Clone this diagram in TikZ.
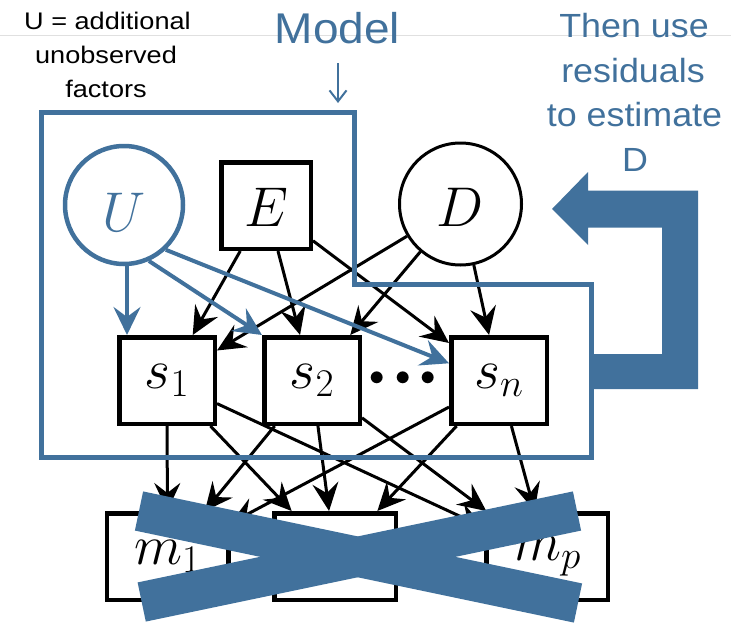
\RequirePackage{fix-cm}
\documentclass[tikz,border=0pt]{standalone}
\usepackage{fontspec}
\newfontfamily\smallsans[FakeStretch=1.13]{Liberation Sans}
\newfontfamily\bigsans[FakeStretch=1.07]{Liberation Sans}
\usetikzlibrary{arrows.meta}
\definecolor{mblue}{RGB}{65,113,156}
\newcommand\mathbig{\fontsize{56}{60}\selectfont}
\begin{document}
\begin{tikzpicture}[x=1pt,y=-1pt,
  smalltxt/.style={font=\smallsans\fontsize{24}{28}\selectfont, text=black, inner sep=0pt, anchor=base},
  bluetxt/.style={font=\bigsans\fontsize{33.5}{38}\selectfont, text=mblue, inner sep=0pt, anchor=base},
  modeltxt/.style={font=\bigsans\fontsize{43}{48}\selectfont, text=mblue, inner sep=0pt, anchor=base},
  sbox/.style={draw, line width=4.5pt, inner sep=0pt, minimum width=95.5pt, minimum height=86.5pt, font=\mathbig},
  ebox/.style={draw, line width=4.5pt, inner sep=0pt, minimum width=89.5pt, minimum height=86.5pt, font=\mathbig, text height=42pt},
  mbox/.style={draw, line width=4.5pt, inner sep=0pt, minimum width=121.5pt, minimum height=86.5pt, font=\mathbig},
  dcirc/.style={draw, circle, line width=3pt, inner sep=0pt, minimum size=122pt, font=\mathbig, text height=44pt},
  ucirc/.style={draw=mblue, circle, line width=4.5pt, inner sep=0pt, minimum size=118pt, font=\mathbig, text=mblue, text height=52pt},
  barr/.style={-{Stealth[length=28pt,width=26pt,inset=10pt]}, line width=3pt, black},
  uarr/.style={-{Stealth[length=28pt,width=27pt,inset=10pt]}, line width=4pt, mblue},
  pointer/.style={-{Straight Barb[length=11pt,width=17pt,line width=2pt]}, line width=2pt, mblue},
]
\useasboundingbox (0,0) rectangle (731,632);
\coordinate (gl) at (0,35);
\coordinate (gr) at (731,35);
\draw[black!12, line width=1pt] (gl) -- (gr);

% texts
\node[smalltxt] (u1) at (107.5,29.3) {U = additional};
\node[smalltxt] (u2) at (106,63.3) {unobserved};
\node[smalltxt] (u3) at (106,97) {factors};
\node[modeltxt] (model) at (337.5,43.3) {Model};
\node[bluetxt] (t1) at (634,37.3) {Then use};
\node[bluetxt] (t2) at (633,82.1) {residuals};
\node[bluetxt] (t3) at (634.5,126.9) {to estimate};
\node[bluetxt] (t4) at (635,171.7) {D};

% pointer under "Model"
\coordinate (ptop) at (338,63);
\coordinate (pbot) at (338,103);
\draw[pointer] (ptop) -- (pbot);

% nodes
\node[ucirc] (U) at (124,205) {$U$};
\node[ebox] (E) at (266,205.5) {$E$};
\node[dcirc] (D) at (460.5,204) {$D$};
\node[sbox] (s1) at (167,380.5) {$s_1$};
\node[sbox] (s2) at (312,380.5) {$s_2$};
\node[sbox] (sn) at (499,380.5) {$s_n$};
\node[font=\fontsize{30.8}{32}\selectfont, inner sep=0pt] (dots) at (403,378.5) {$\bullet$\hspace{10.1pt}$\bullet$\hspace{10.1pt}$\bullet$};
\node[mbox] (m1) at (167.5,556.5) {$m_1$};
\node[mbox] (m2) at (335,556.5) {};
\node[mbox] (mp) at (547,556.5) {$m_p$};

% black edges
\foreach \a in {E,D}{\foreach \b in {s1,s2,sn}{\draw[barr] (\a) -- (\b);}}
\foreach \a in {s1,s2,sn}{\foreach \b in {m1,m2,mp}{\draw[barr] (\a) -- (\b);}}

% blue edges from U
\draw[uarr] ([xshift=3pt]U.south) -- ([xshift=3pt]U.south |- s1.north);
\draw[uarr] (U.-66) -- (s2.north west);
\draw[uarr] (U.-47) -- (sn.161);

% model box
\draw[mblue, line width=5pt] (41,112.5) -- (354,112.5) -- (354,284) -- (591,284) -- (591,457) -- (41,457) -- cycle;

% feedback arrow
\fill[mblue] (552,209) -- (588,172) -- (588,190.5) -- (698,190.5) -- (698,389) -- (590,389) -- (590,354) -- (662,354) -- (662,227.5) -- (588,227.5) -- (588,245) -- cycle;

% cross
\draw[mblue, line width=40pt] (139,511) -- (578,603);
\draw[mblue, line width=40pt] (141.7,602) -- (577,511);
\end{tikzpicture}
\end{document}
